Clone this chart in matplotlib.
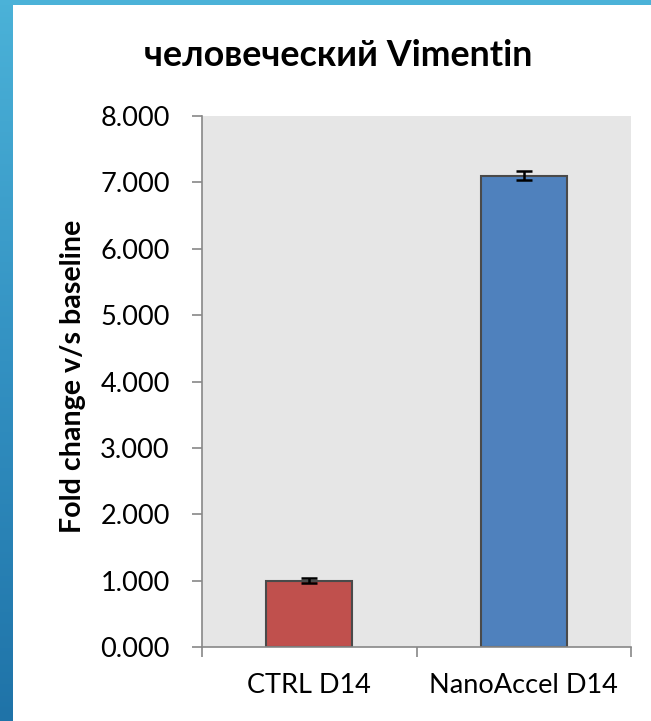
import numpy as np
import matplotlib
matplotlib.use("Agg")
import matplotlib.pyplot as plt
from matplotlib.colors import LinearSegmentedColormap

plt.rcParams['font.family'] = ['Lato', 'Open Sans', 'DejaVu Sans']

categories = ["CTRL D14", "NanoAccel D14"]
values = [1.0, 7.10]
errors = [0.04, 0.07]
bar_colors = ["#C0504D", "#4F81BD"]
yticks = [0, 1, 2, 3, 4, 5, 6, 7, 8]

W, H = 651, 721
fig = plt.figure(figsize=(W / 100, H / 100), dpi=100)
fig.patch.set_facecolor("white")

# decorative frame: left gradient band and top band
band = fig.add_axes([0, 0, 13 / W, 1])
grad = np.linspace(0, 1, 256).reshape(-1, 1)
cmap = LinearSegmentedColormap.from_list("frame", ["#1F73A8", "#3391C2", "#4BB2D8"])
band.imshow(grad, aspect="auto", cmap=cmap, origin="lower", extent=[0, 1, 0, 1])
band.set_axis_off()
top = fig.add_axes([0, 1 - 5 / H, 1, 5 / H])
top.set_facecolor("#4BB2D8")
top.set_xticks([]); top.set_yticks([])
for s in top.spines.values():
    s.set_visible(False)

ax = fig.add_axes([202 / W, (H - 647) / H, 429 / W, 531 / H])
ax.set_facecolor("#E6E6E6")
x = np.arange(len(categories))
ax.bar(x, values, width=0.4, color=bar_colors, edgecolor="#4A4A4A", linewidth=1.5, zorder=2)
ax.errorbar(x, values, yerr=errors, fmt="none", ecolor="black", elinewidth=1.8,
            capsize=5.8, capthick=1.8, zorder=3)

ax.set_xlim(-0.5, 1.5)
ax.set_ylim(0, 8)
ax.set_yticks(yticks)
ax.set_yticklabels([f"{v:.3f}" for v in yticks], fontsize=19.5)
ax.tick_params(axis="y", direction="out", length=7.2, width=1.2, color="#888888", pad=16)

ax.set_xticks([-0.5, 0.5, 1.5])
ax.set_xticklabels([])
ax.tick_params(axis="x", direction="out", length=7.2, width=1.2, color="#888888")
ax.set_xticks(x, minor=True)
ax.set_xticklabels(categories, minor=True, fontsize=19.5)
ax.tick_params(axis="x", which="minor", length=0, pad=19)

for side in ("top", "right"):
    ax.spines[side].set_visible(False)
for side in ("left", "bottom"):
    ax.spines[side].set_color("#888888")
    ax.spines[side].set_linewidth(1.2)

fig.text(73 / W, 1 - 376 / H, "Fold change v/s baseline", rotation=90, ha="center",
         va="center", fontsize=20.6, fontweight="bold")
fig.text(338 / W, 1 - 56 / H, "человеческий Vimentin", ha="center", va="center",
         fontsize=25.8, fontweight="bold")

fig.savefig("out.png", dpi=100, facecolor="white")
